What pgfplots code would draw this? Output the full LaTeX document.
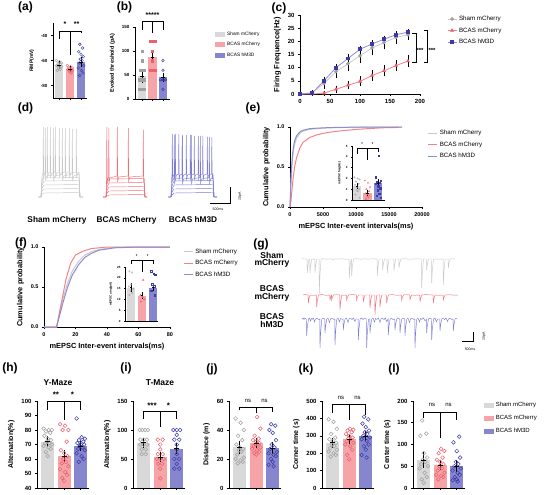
\documentclass[border=0pt]{standalone}
\usepackage{fontspec}
\setmainfont{Liberation Sans}
\usepackage{pgfplots}
\pgfplotsset{compat=1.18}
\definecolor{gbar}{RGB}{217,217,217}
\definecolor{gdot}{RGB}{160,160,160}
\definecolor{rbar}{RGB}{246,164,168}
\definecolor{rdot}{RGB}{238,96,108}
\definecolor{bbar}{RGB}{134,134,206}
\definecolor{bdot}{RGB}{58,58,170}
\definecolor{gline}{RGB}{200,200,200}
\definecolor{rline}{RGB}{245,128,138}
\definecolor{bline}{RGB}{140,140,215}
\definecolor{tg}{RGB}{200,200,200}
\definecolor{tr}{RGB}{240,110,120}
\definecolor{tb}{RGB}{125,125,210}
\newcommand{\fs}[1]{\fontsize{#1}{#1}\selectfont}
\tikzset{br/.style={line width=0.6pt, black}}
\pgfplotsset{
  base/.style={scale only axis, anchor=south west, clip=false,
    axis x line=bottom, axis y line=left,
    axis line style={-, line width=0.7pt},
    tick align=outside, major tick length=2pt,
    tick style={line width=0.6pt, black},
    /pgf/number format/assume math mode=true,
    /pgf/number format/1000 sep={},
    scaled x ticks=false, scaled y ticks=false,
    tick label style={font=\fs{5}\bfseries},
    label style={font=\fs{6}\bfseries},
    legend cell align=left},
  cat/.style={base, xtick={1,2,3}, xticklabels={}},
  sw/.style={legend image code/.code={\fill[##1] (0pt,-2.6pt) rectangle (10pt,2.6pt);}},
  shortline/.style={legend image code/.code={\draw[mark repeat=2, mark phase=2, ##1] plot coordinates {(0pt,0pt) (4.5pt,0pt) (9pt,0pt)};}},
  gb/.style={ybar, bar width=0.8, bar shift=0pt, fill=gbar, draw=none, sw},
  rb/.style={ybar, bar width=0.8, bar shift=0pt, fill=rbar, draw=none, sw},
  bb/.style={ybar, bar width=0.8, bar shift=0pt, fill=bbar, draw=none, sw},
  gd/.style={only marks, mark=o, mark size=1.9pt, color=gdot, mark options={line width=0.5pt}, forget plot},
  rd/.style={only marks, mark=o, mark size=1.9pt, color=rdot, mark options={line width=0.5pt}, forget plot},
  bd/.style={only marks, mark=o, mark size=1.9pt, color=bdot, mark options={line width=0.5pt}, forget plot},
  eb/.style={forget plot, draw=none, mark=-, mark size=#1, mark options={draw=black, line width=0.6pt, solid},
    /pgfplots/error bars/y dir=both, /pgfplots/error bars/y explicit,
    /pgfplots/error bars/error bar style={draw=black, line width=0.6pt, solid},
    /pgfplots/error bars/error mark options={draw=black, line width=0.6pt, mark size=#1}},
  eb/.default=2.5pt,
}
\begin{document}
\begin{tikzpicture}
\path[use as bounding box] (0,0) rectangle (546pt,-495pt);

% ---------------- (a)
\begin{axis}[cat, at={(53pt,-98pt)}, width=34pt, height=75pt, xmin=0.45, xmax=3.55, ymin=-90, ymax=-30,
  ytick={-80,-60,-40}, ylabel={RMP(mV)}, tick label style={font=\fs{4.5}\bfseries}, label style={font=\fs{5}\bfseries}]
\addplot[fill=gbar, draw=none, forget plot] coordinates {(0.62,-90) (0.62,-63.5) (1.38,-63.5) (1.38,-90)};
\addplot[fill=rbar, draw=none, forget plot] coordinates {(1.62,-90) (1.62,-67) (2.38,-67) (2.38,-90)};
\addplot[fill=bbar, draw=none, forget plot] coordinates {(2.62,-90) (2.62,-61.5) (3.38,-61.5) (3.38,-90)};
\addplot[gd, mark size=1.4pt, mark options={line width=0.4pt}] coordinates {(0.75,-60)(1.05,-61)(1.25,-62)(0.9,-62)(1.15,-63)(0.8,-64)(1,-64)(1.2,-65)(0.95,-66)(1.1,-67)(0.85,-68)};
\addplot[rd, mark size=1.4pt, mark options={line width=0.4pt}] coordinates {(1.75,-64)(2.05,-65)(2.25,-66)(1.9,-66)(2.15,-67)(1.8,-67)(2,-68)(2.2,-68)(1.95,-69)(2.1,-70)};
\addplot[bd, mark size=1.4pt, mark options={line width=0.4pt}] coordinates {(2.9,-47)(3.15,-50)(2.8,-53)(3,-55)(3.2,-57)(2.95,-59)(3.1,-60)(2.85,-62)(3.25,-64)(2.75,-66)(3.05,-68)(3.18,-70)(2.88,-72)};
\addplot[eb=1.8pt] coordinates {(1,-63.5) +- (0,1.5) (2,-67) +- (0,1) (3,-61.5) +- (0,2.5)};
\draw[br] (axis cs:1,-42.8) -- (axis cs:1,-36.4) -- (axis cs:3,-36.4) -- (axis cs:3,-38);
\draw[br] (axis cs:2,-36.4) -- (axis cs:2,-55.6);
\node[font=\fs{7}\bfseries] at (axis cs:1.55,-31) {*};
\node[font=\fs{7}\bfseries] at (axis cs:2.6,-31) {**};
\end{axis}

% ---------------- (b)
\begin{axis}[cat, at={(135pt,-99pt)}, width=35pt, height=72pt, xmin=0.33, xmax=3.67, ymin=0, ymax=150,
  ytick={0,50,100,150}, ylabel={Evoked threshold (pA)}, tick label style={font=\fs{4.5}\bfseries}, label style={font=\fs{5.5}\bfseries},
  legend style={at={(2.2,0.99)}, anchor=north west, draw=none, fill=none, font=\fs{4.8}, row sep=1.5pt}]
\addplot[gb] coordinates {(1,47)}; \addlegendentry{Sham mCherry}
\addplot[rb] coordinates {(2,87)}; \addlegendentry{BCAS mCherry}
\addplot[bb] coordinates {(3,45)}; \addlegendentry{BCAS hM3D}
\addplot[gd, mark=square*, mark size=1.2pt] coordinates {(1,100)(1,80)(0.85,60)(1.15,60)(0.8,40)(1,40)(1.2,40)(0.8,20)(1,20)(1.2,20)};
\addplot[rd, mark=square*, mark size=1.2pt] coordinates {(1.8,120)(2,120)(2.2,120)(2,100)(2,80)(1.8,60)(2,60)(2.2,60)};
\addplot[bd, mark size=1.3pt] coordinates {(3,80)(3,60)(2.75,40)(2.92,40)(3.08,40)(3.25,40)(3,20)};
\addplot[eb=1.8pt] coordinates {(1,47) +- (0,9) (2,87) +- (0,9) (3,45) +- (0,5)};
\draw[br] (axis cs:1,144) -- (axis cs:1,161) -- (axis cs:3,161) -- (axis cs:3,144);
\draw[br] (axis cs:2,161) -- (axis cs:2,137);
\node[font=\fs{7}\bfseries] at (axis cs:2,174) {*****};
\end{axis}

% ---------------- (c)
\begin{axis}[base, at={(300pt,-94pt)}, width=120pt, height=79pt, xmin=0, xmax=200, ymin=0, ymax=30,
  xtick={0,50,100,150,200}, ytick={0,5,10,15,20,25,30}, ylabel={Firing Frequence(Hz)},
  tick label style={font=\fs{6}\bfseries}, label style={font=\fs{7.5}\bfseries},
  legend style={at={(1.2,1.04)}, anchor=north west, draw=none, fill=none, font=\fs{6.2}, row sep=1.5pt}]
\addplot[shortline, color=gline, line width=0.8pt, mark=*, mark size=1.4pt, mark options={fill=gdot, draw=gdot},
  error bars/.cd, y dir=both, y explicit, error bar style={black, line width=0.5pt}, error mark options={black, mark size=1.5pt}]
  coordinates {(0,0) +- (0,0) (20,0.5) +- (0,0.4) (40,4) +- (0,1.5) (60,8.5) +- (0,2) (80,11.5) +- (0,2.3) (100,14.5) +- (0,2.3) (120,17.5) +- (0,2.2) (140,19.5) +- (0,2) (160,21.5) +- (0,1.8) (180,22.5) +- (0,1.6)};
\addlegendentry{Sham mCherry}
\addplot[shortline, color=rline, line width=0.8pt, mark=triangle*, mark size=1.5pt, mark options={fill=rdot, draw=rdot},
  error bars/.cd, y dir=both, y explicit, error bar style={black, line width=0.5pt}, error mark options={black, mark size=1.5pt}]
  coordinates {(0,0) +- (0,0) (20,0) +- (0,0) (40,0.3) +- (0,0.3) (60,1.8) +- (0,0.8) (80,3.3) +- (0,1) (100,4.8) +- (0,1.3) (120,7) +- (0,1.4) (140,8.8) +- (0,1.5) (160,10.8) +- (0,1.5) (180,12.5) +- (0,1.6)};
\addlegendentry{BCAS mCherry}
\addplot[shortline, color=bline, line width=0.8pt, mark=square*, mark size=1.4pt, mark options={fill=bdot, draw=bdot},
  error bars/.cd, y dir=both, y explicit, error bar style={black, line width=0.5pt}, error mark options={black, mark size=1.5pt}]
  coordinates {(0,0) +- (0,0) (20,0.3) +- (0,0.3) (40,5) +- (0,0.8) (60,10) +- (0,1) (80,13.5) +- (0,1) (100,17) +- (0,0.8) (120,19) +- (0,0.8) (140,20.8) +- (0,0.8) (160,22.5) +- (0,0.8) (180,23.5) +- (0,0.8)};
\addlegendentry{BCAS hM3D}
\draw[br] (axis cs:186,23.2) -- (axis cs:193,23.2) -- (axis cs:193,12.2) -- (axis cs:186,12.2);
\draw[br] (axis cs:207,24.3) -- (axis cs:212,24.3) -- (axis cs:212,12.2) -- (axis cs:207,12.2);
\node[font=\fs{6}\bfseries] at (axis cs:200,16.5) {***};
\node[font=\fs{6}\bfseries] at (axis cs:220,16.5) {***};
\end{axis}

% ---------------- (d) traces
\begin{axis}[scale only axis, anchor=south west, at={(0pt,-200pt)}, width=250pt, height=80pt,
  xmin=0, xmax=250, ymin=0, ymax=80, hide axis, clip=false]
\addplot[tg, line width=0.45pt] coordinates {(38,3)(41,3)(42,6)(44,7)(79,7.5)(80,3)(83,3)};
\addplot[tg, line width=0.45pt] coordinates {(38,3)(41,3)(42,9)(44,11)(79,11.5)(80,3)(83,3)};
\addplot[tg, line width=0.45pt] coordinates {(38,3)(41,3)(42,12)(44,15)(79,15.5)(80,3)(83,3)};
\addplot[tg, line width=0.45pt] coordinates {(38,3)(41,3)(42,15)(44,19)(79,19.5)(80,3)(83,3)};
\addplot[tg, line width=0.45pt] coordinates {(38,3)(41,3)(42,18)(44,22)(79,22.5)(80,3)(83,3)};
\addplot[tg, line width=0.45pt] coordinates {(38,3)(41,3)(42,20)(44,25)(45,25)(45.3,72)(45.7,19)(46.5,24)(53,25)(53.3,72)(53.7,19)(54.5,24)(62,25.5)(62.3,72)(62.7,19)(63.5,24)(72,26)(72.3,71)(72.7,19)(73.5,24)(79,26)(80,3)(83,3)};
\addplot[tg, line width=0.45pt] coordinates {(38,3)(41,3)(42,23)(43,28)(43.3,73)(43.7,22)(44.5,27)(47,28)(47.3,73)(47.7,22)(48.5,27)(50,28)(50.3,73)(50.7,22)(51.5,27)(55,28)(55.3,73)(55.7,22)(56.5,27)(59,28)(59.3,72)(59.7,22)(60.5,27)(65,28)(65.3,72)(65.7,22)(66.5,27)(69,28)(69.3,72)(69.7,22)(70.5,27)(76,28)(76.3,71)(76.7,22)(77.5,27)(79,28)(80,3)(83,3)};
\addplot[tr, line width=0.45pt] coordinates {(103,3)(106,3)(107,4)(109,5)(144,5.5)(145,3)(147,3)};
\addplot[tr, line width=0.45pt] coordinates {(103,3)(106,3)(107,7)(109,9)(144,9.5)(145,3)(147,3)};
\addplot[tr, line width=0.45pt] coordinates {(103,3)(106,3)(107,10)(109,13)(144,13.5)(145,3)(147,3)};
\addplot[tr, line width=0.45pt] coordinates {(103,3)(106,3)(107,13)(109,17)(144,17.5)(145,3)(147,3)};
\addplot[tr, line width=0.45pt] coordinates {(103,3)(106,3)(107,16)(109,21)(144,21.5)(145,3)(147,3)};
\addplot[tr, line width=0.45pt] coordinates {(103,3)(106,3)(106.5,20)(106.8,73)(107.2,18)(108,22)(108.5,23)(108.8,72)(109.2,18)(110,22)(117,24)(117.3,73)(117.7,18)(118.5,23)(128,24)(128.3,72)(128.7,18)(129.5,23)(143,24)(143.3,70)(143.7,18)(144,22)(145,3)(147,3)};
\addplot[tb, line width=0.45pt] coordinates {(168,3)(171,3)(172,5)(174,7)(213,7.5)(214,3)(217,3)};
\addplot[tb, line width=0.45pt] coordinates {(168,3)(171,3)(172,8)(174,11)(213,11.5)(214,3)(217,3)};
\addplot[tb, line width=0.45pt] coordinates {(168,3)(171,3)(172,11)(174,15)(213,15.5)(214,3)(217,3)};
\addplot[tb, line width=0.45pt] coordinates {(168,3)(171,3)(172,14)(174,19)(213,19.5)(214,3)(217,3)};
\addplot[tb, line width=0.45pt] coordinates {(168,3)(171,3)(172,18)(174,22)(174.3,65)(174.7,17)(175.5,21)(182,22)(182.3,64)(182.7,17)(183.5,21)(191,22)(191.3,65)(191.7,17)(192.5,21)(200,22.5)(200.3,64)(200.7,17)(201.5,21)(209,22.5)(209.3,63)(209.7,17)(210.5,21)(213,22.5)(214,3)(217,3)};
\addplot[tb, line width=0.45pt] coordinates {(168,3)(171,3)(171.7,22)(172,26)(172.3,66)(172.7,21)(173.5,25)(175,26)(175.3,66)(175.7,21)(176.5,25)(178.5,26)(178.8,66)(179.2,21)(180,25)(182,26)(182.3,65)(182.7,21)(183.5,25)(186,26)(186.3,65)(186.7,21)(187.5,25)(190,26)(190.3,65)(190.7,21)(191.5,25)(194,26)(194.3,64)(194.7,21)(195.5,25)(198,26)(198.3,64)(198.7,21)(199.5,25)(202.5,26)(202.8,64)(203.2,21)(204,25)(207,26)(207.3,63)(207.7,21)(208.5,25)(211.5,26)(211.8,63)(212.2,21)(213,25.5)(214,3)(217,3)};
\addplot[black, line width=0.8pt] coordinates {(210,-3)(230,-3)(230,13)};
\node[font=\fs{3.5}] at (axis cs:218,-9) {500ms};
\node[font=\fs{3.5}, rotate=90] at (axis cs:240,4) {10pA};
\node[font=\fs{8.3}\bfseries] at (axis cs:57,-20) {Sham mCherry};
\node[font=\fs{8.3}\bfseries] at (axis cs:126.5,-20) {BCAS mCherry};
\node[font=\fs{8.3}\bfseries] at (axis cs:193,-20) {BCAS hM3D};
\end{axis}

% ---------------- (e)
\begin{axis}[base, at={(290pt,-207pt)}, width=132pt, height=80pt, xmin=0, xmax=20000, ymin=0, ymax=1,
  xtick={0,5000,10000,15000,20000}, ytick={0,0.5,1}, yticklabels={0.0,0.5,1.0},
  xlabel={mEPSC Inter-event intervals(ms)}, ylabel={Cumulative probability},
  tick label style={font=\fs{5.5}\bfseries}, label style={font=\fs{7.4}\bfseries},
  legend style={at={(1.02,1.01)}, anchor=north west, draw=none, fill=none, font=\fs{6.2}, row sep=1.5pt}]
\addplot[shortline, gline, line width=1pt] coordinates {(0,0)(100,0.2)(200,0.4)(300,0.52)(400,0.62)(600,0.74)(800,0.81)(1000,0.86)(1500,0.92)(2000,0.95)(3000,0.97)(4000,0.98)(6000,0.99)(9000,0.995)(13000,1)(17000,1)};
\addlegendentry{Sham mCherry}
\addplot[shortline, rline, line width=1pt] coordinates {(0,0)(150,0.08)(300,0.22)(500,0.38)(700,0.5)(1000,0.62)(1500,0.74)(2000,0.81)(3000,0.87)(4000,0.9)(5000,0.92)(6000,0.935)(8000,0.955)(10000,0.97)(12000,0.98)(14000,0.99)(16500,0.995)};
\addlegendentry{BCAS mCherry}
\addplot[shortline, bline, line width=1pt] coordinates {(0,0)(100,0.25)(200,0.45)(300,0.57)(400,0.67)(600,0.79)(800,0.85)(1000,0.89)(1500,0.94)(2000,0.96)(3000,0.98)(4000,0.985)(6000,0.993)(9000,0.997)(13000,1)(17000,1)};
\addlegendentry{BCAS hM3D}
\end{axis}
% inset (e)
\begin{axis}[cat, at={(352pt,-200pt)}, width=33pt, height=54pt, xmin=0.52, xmax=3.67, ymin=0, ymax=5,
  ytick={0,1,2,3,4,5}, ylabel={mEPSC freq(Hz)}, major tick length=1pt, axis line style={-, line width=0.5pt}, tick style={line width=0.4pt},
  tick label style={font=\fs{3}\bfseries}, label style={font=\fs{3}\bfseries}, ylabel style={yshift=-2pt}]
\addplot[gb] coordinates {(1,1.3)};
\addplot[rb] coordinates {(2,0.65)};
\addplot[bb] coordinates {(3,1.55)};
\addplot[gd, mark size=0.8pt, mark options={line width=0.3pt}] coordinates {(0.75,2.1)(1.05,2.0)(1.25,1.9)(0.9,1.7)(1.15,1.5)(0.8,1.4)(1,1.2)(1.2,1.0)(0.95,0.9)(1.1,0.8)(0.85,0.5)(1.25,0.2)};
\addplot[rd, mark=triangle, mark size=0.9pt, mark options={line width=0.3pt}] coordinates {(1.75,1.8)(2.05,1.6)(2.25,1.2)(1.9,1.0)(2.15,0.8)(1.8,0.6)(2,0.5)(2.2,0.4)(1.95,0.3)(2.1,0.2)(1.85,0.1)};
\addplot[bd, mark=square*, mark size=0.7pt, mark options={line width=0.3pt}] coordinates {(3.05,4.1)(2.75,2.1)(3.25,1.8)(2.9,1.7)(3.15,1.6)(2.8,1.5)(3,1.3)(3.2,1.1)(2.95,0.9)(3.1,0.6)(2.85,0.4)(3.25,0.2)};
\addplot[eb=1.2pt] coordinates {(1,1.3) +- (0,0.2) (2,0.65) +- (0,0.2) (3,1.55) +- (0,0.3)};
\draw[line width=0.4pt] (axis cs:1,4.3) -- (axis cs:1,4.75) -- (axis cs:3,4.75) -- (axis cs:3,4.4);
\draw[line width=0.4pt] (axis cs:2,4.75) -- (axis cs:2,3.7);
\node[font=\fs{4}\bfseries] at (axis cs:1.5,5.15) {*};
\node[font=\fs{4}\bfseries] at (axis cs:2.5,5.15) {*};
\end{axis}

% ---------------- (f)
\begin{axis}[base, at={(44pt,-327pt)}, width=126pt, height=80pt, xmin=0, xmax=80, ymin=0, ymax=1,
  xtick={0,20,40,60,80}, ytick={0,0.5,1}, yticklabels={0.0,0.5,1.0},
  xlabel={mEPSC Inter-event intervals(ms)}, ylabel={Cumulative probability},
  tick label style={font=\fs{5.5}\bfseries}, label style={font=\fs{7.4}\bfseries},
  legend style={at={(1.08,1.03)}, anchor=north west, draw=none, fill=none, font=\fs{6.2}, row sep=1.5pt}]
\addplot[shortline, gline, line width=1pt] coordinates {(0,0)(8,0)(10,0.18)(12,0.35)(15,0.55)(18,0.7)(22,0.82)(26,0.9)(30,0.94)(35,0.97)(45,0.995)(60,1)(80,1)};
\addlegendentry{Sham mCherry}
\addplot[shortline, rline, line width=1pt] coordinates {(0,0)(8,0)(10,0.2)(12,0.4)(14,0.6)(17,0.8)(20,0.9)(25,0.95)(30,0.98)(40,1)(80,1)};
\addlegendentry{BCAS mCherry}
\addplot[shortline, bline, line width=1pt] coordinates {(0,0)(8,0)(10,0.15)(12,0.3)(15,0.5)(18,0.65)(22,0.78)(26,0.87)(30,0.92)(35,0.96)(45,0.99)(60,1)(80,1)};
\addlegendentry{BCAS hM3D}
\end{axis}
% inset (f)
\begin{axis}[cat, at={(125pt,-321pt)}, width=33pt, height=54pt, xmin=0.45, xmax=3.45, ymin=0, ymax=25,
  ytick={0,5,10,15,20,25}, ylabel={mEPSC amp(pA)}, major tick length=1pt, axis line style={-, line width=0.5pt}, tick style={line width=0.4pt},
  tick label style={font=\fs{3}\bfseries}, label style={font=\fs{3}\bfseries}, ylabel style={yshift=-2pt}]
\addplot[gb] coordinates {(1,15.5)};
\addplot[rb] coordinates {(2,11.8)};
\addplot[bb] coordinates {(3,15.5)};
\addplot[gd, mark=diamond, mark size=0.9pt, mark options={line width=0.3pt}] coordinates {(0.85,23)(1.1,22.5)(1,17)(0.8,16)(1.2,15)(0.95,14)(1.1,13)(0.85,12)};
\addplot[rd, mark=triangle*, mark size=0.9pt, mark options={line width=0.3pt}] coordinates {(2.1,19)(1.85,12)(2.05,11)(2.2,10)(1.9,9)};
\addplot[bd, mark=square, mark size=0.8pt, mark options={line width=0.3pt}] coordinates {(2.8,23)(3.05,22)(3.2,21.5)(2.9,17)(3.1,16)(2.85,14)(3.15,12)};
\addplot[eb=1.2pt] coordinates {(1,15.5) +- (0,1.5) (2,11.8) +- (0,1) (3,15.5) +- (0,1)};
\draw[line width=0.4pt] (axis cs:1,26.5) -- (axis cs:1,28) -- (axis cs:3,28) -- (axis cs:3,26.5);
\draw[line width=0.4pt] (axis cs:2,28) -- (axis cs:2,22.7);
\node[font=\fs{4}\bfseries] at (axis cs:1.5,30) {*};
\node[font=\fs{4}\bfseries] at (axis cs:2.5,30) {*};
\end{axis}

% ---------------- (g) traces
\begin{axis}[scale only axis, anchor=south west, at={(300pt,-350pt)}, width=160pt, height=95pt,
  xmin=0, xmax=160, ymin=0, ymax=95, hide axis, clip=false]
\addplot[tg, line width=0.45pt] coordinates {(2,91)(4,91.3)(6,90.8)(7.1,91)(7.3,77)(7.9,84)(9,91)(9.8,91)(10,77)(10.6,84)(11.8,91)(13,90.7)(14.8,91)(15,77)(15.6,84)(16.8,91)(19.1,91)(19.3,57)(19.9,74)(21.1,91)(24,91.3)(27,90.7)(30,91.2)(33,90.6)(36,91.2)(39,90.8)(42,91.3)(46,90.8)(49.1,91)(49.3,72)(49.9,81.5)(51.1,91)(51.5,91)(51.7,74)(52.3,82.5)(53.5,91)(57,91.3)(61,90.7)(65,91.2)(69,90.8)(73,91.3)(77.1,91)(77.3,74)(77.9,82.5)(79.1,91)(82.5,91)(82.7,80)(83.3,85.5)(84.5,91)(87.1,91)(87.3,77)(87.9,84)(89.1,91)(93.8,91)(94,79)(94.6,85)(95.8,91)(98.8,91)(99,82)(99.6,86.5)(100.8,91)(105,91.3)(110,90.7)(116,91.2)(121.5,91)(121.7,62)(122.3,76.5)(123.5,91)(126.5,91)(126.7,80)(127.3,85.5)(128.5,91)(131.5,91)(131.7,67)(132.3,79)(133.5,91)(138,90.8)(143.1,91)(143.3,65)(143.9,78)(145.1,91)(148.1,91)(148.3,82)(148.9,86.5)(150.1,91)(153,91.2)(155,91)};
\addplot[tr, line width=0.45pt] coordinates {(3,55)(5,55.4)(8.1,55)(8.3,47)(8.9,51)(10.1,55)(13,54.7)(16.5,55)(16.7,43)(17.3,49)(18.5,55)(22,55.4)(26,54.7)(29.8,55)(30,50)(30.6,52.5)(31.5,55)(31.7,50)(32.3,52.5)(33.5,55)(36,55.3)(39.8,55)(40,40)(40.6,47.5)(41.8,55)(44,54.7)(46.5,55)(46.7,50)(47.3,52.5)(48.5,55)(52,55.4)(56.5,55)(56.7,50)(57.3,52.5)(58.5,55)(63.1,55)(63.3,48)(63.9,51.5)(65.1,55)(69.8,55)(70,42)(70.6,48.5)(71.8,55)(74.8,55)(75,35)(75.6,45)(76.8,55)(79.8,55)(80,43)(80.6,49)(81.8,55)(86.5,55)(86.7,47)(87.3,51)(88.5,55)(92,55.4)(97,54.7)(101.5,55)(101.7,50)(102.3,52.5)(103.5,55)(106,55.3)(109.8,55)(110,50)(110.6,52.5)(111.8,55)(115,54.7)(119.8,55)(120,48)(120.6,51.5)(121.8,55)(126,55.4)(133.1,55)(133.3,47)(133.9,51)(135.1,55)(139,54.7)(143.1,55)(143.3,50)(143.9,52.5)(145.1,55)(150,55.3)(154,54.8)(158,55)};
\addplot[tb, line width=0.45pt] coordinates {(2,31)(3,32)(4,30.5)(5,31.8)(6.5,31)(6.7,14)(7.3,22.5)(8.5,31)(9.5,32)(10.5,29)(11.5,31.5)(12.5,30.8)(13.5,32)(14.5,28)(15.5,31)(17,31.8)(18.5,30.5)(19.8,31)(20,2)(20.6,16.5)(21.8,31)(23,31.8)(24.8,31)(25,17)(25.6,24)(26.8,31)(28,32)(29.5,27.5)(30.5,31)(32,31.8)(33.5,30.6)(34.8,31)(35,5)(35.6,18)(36.8,31)(38,32)(39.5,28)(40.5,31.5)(42,30.8)(43.1,31)(43.3,20)(43.9,25.5)(45.1,31)(46.5,32)(48,27.5)(49,31)(50.5,31.8)(52,30.5)(53.5,32)(55,28.5)(56,31)(58.1,31)(58.3,10)(58.9,20.5)(60.1,31)(61.5,32)(63,30.5)(64.5,31.8)(66.5,31)(66.7,2)(67.3,16.5)(68.5,31)(69.8,31)(70,17)(70.6,24)(71.8,31)(73,32)(74.5,28)(75.5,31.5)(77,30.6)(78.5,32)(80,27.5)(81,31)(82.5,31.8)(84,30.5)(85.5,32)(86.5,28.5)(88.1,31)(88.3,15)(88.9,23)(90.1,31)(91.5,31.8)(93,30.5)(94.8,31)(95,20)(95.6,25.5)(96.8,31)(98,32)(99.8,31)(100,17)(100.6,24)(101.8,31)(103,31.8)(104.8,31)(105,14)(105.6,22.5)(106.8,31)(108,32)(109.5,27.5)(110.5,31)(112,31.8)(113.5,30.6)(114.8,31)(115,2)(115.6,16.5)(116.8,31)(118,32)(119.5,28)(120.5,31.5)(122,30.6)(123.5,32)(125,29)(126.5,31)(126.7,17)(127.3,24)(128.5,31)(130,31.8)(131.5,31)(131.7,10)(132.3,20.5)(133.5,31)(135,32)(136.5,28)(137.5,31)(139.8,31)(140,19)(140.6,25)(141.8,31)(143,31.8)(144.5,30.5)(146,32)(147.5,28.5)(148.5,31)(150,31.8)(151.5,30.6)(153.1,31)(153.3,19)(153.9,25)(155.1,31)(156,31.8)(157,31)};
\addplot[black, line width=0.8pt] coordinates {(162,9)(173,9)(173,18)};
\node[font=\fs{3.5}] at (axis cs:170,1) {500ms};
\node[font=\fs{3.5}, rotate=90] at (axis cs:184,14) {15pA};
\node[font=\fs{8.5}\bfseries, align=center] at (axis cs:-28,90) {Sham\\[-1pt]mCherry};
\node[font=\fs{8.5}\bfseries, align=center] at (axis cs:-28,56.5) {BCAS\\[-1pt]mCherry};
\node[font=\fs{8.5}\bfseries, align=center] at (axis cs:-28,29.5) {BCAS\\[-1pt]hM3D};
\end{axis}

% ---------------- (h)
\begin{axis}[cat, at={(37pt,-488pt)}, width=52pt, height=87pt, xmin=0.35, xmax=3.5, ymin=40, ymax=100,
  ytick={40,50,60,70,80,90,100}, ylabel={Alternation(\%)}, tick label style={font=\fs{6}\bfseries}, label style={font=\fs{7}\bfseries}]
\addplot[fill=gbar, draw=none, forget plot] coordinates {(0.6,40) (0.6,72) (1.4,72) (1.4,40)};
\addplot[fill=rbar, draw=none, forget plot] coordinates {(1.6,40) (1.6,62) (2.4,62) (2.4,40)};
\addplot[fill=bbar, draw=none, forget plot] coordinates {(2.6,40) (2.6,69) (3.4,69) (3.4,40)};
\addplot[gd] coordinates {(0.75,81)(1.05,80)(1.25,80)(0.9,79)(1.15,78)(0.8,76)(1,74)(1.2,73)(0.95,72)(1.1,71)(0.85,71)(1.25,70)(0.75,69)(1.05,68)(1.18,67)(0.88,65)(1,62)};
\addplot[rd] coordinates {(1.75,84)(2.05,83)(2.25,80)(1.9,80)(2.15,72)(1.8,66)(2,64)(2.2,62)(1.95,60)(2.1,58)(1.85,57)(2.25,55)(1.75,53)(2.05,51)(2.18,49)(1.88,47)(2,45)};
\addplot[bd] coordinates {(2.75,88)(3.05,75)(3.25,74)(2.9,73)(3.15,72)(2.8,71)(3,70)(3.2,70)(2.95,69)(3.1,68)(2.85,67)(3.25,66)(2.75,64)(3.05,62)(3.18,60)(2.88,58)};
\addplot[eb] coordinates {(1,72) +- (0,2) (2,62) +- (0,2.5) (3,69) +- (0,2)};
\draw[br] (axis cs:1,94) -- (axis cs:1,100) -- (axis cs:3,100) -- (axis cs:3,94);
\draw[br] (axis cs:2,100) -- (axis cs:2,87);
\node[font=\fs{8}\bfseries] at (axis cs:1.5,104.5) {**};
\node[font=\fs{8}\bfseries] at (axis cs:2.5,104.5) {*};
\end{axis}

% ---------------- (i)
\begin{axis}[cat, at={(133pt,-488pt)}, width=52pt, height=87pt, xmin=0.35, xmax=3.5, ymin=0, ymax=150,
  ytick={0,50,100,150}, ylabel={Alternation(\%)}, tick label style={font=\fs{6}\bfseries}, label style={font=\fs{7}\bfseries}]
\addplot[gb] coordinates {(1,78)};
\addplot[rb] coordinates {(2,53)};
\addplot[bb] coordinates {(3,68)};
\addplot[gd] coordinates {(0.75,100)(0.92,100)(1.08,100)(1.25,100)(0.8,83.3)(1,83.3)(1.2,83.3)(0.8,75)(1,75)(1.2,75)(0.88,66.7)(1.12,66.7)(0.88,58.3)(1.12,58.3)};
\addplot[rd] coordinates {(1.85,83.3)(2.15,83.3)(2,75)(2,66.7)(1.85,58.3)(2.15,58.3)(1.78,50)(2,50)(2.22,50)(1.88,41.7)(2.12,41.7)(2,33.3)(2,16.7)};
\addplot[bd] coordinates {(2.8,100)(3,100)(3.2,100)(3,91.7)(2.85,83.3)(3.15,83.3)(3,75)(3,66.7)(3,58.3)(2.85,50)(3.15,50)(3,41.7)(2.85,33.3)(3.15,33.3)};
\addplot[eb] coordinates {(1,78) +- (0,4) (2,53) +- (0,4) (3,68) +- (0,5)};
\draw[br] (axis cs:1,119) -- (axis cs:1,133) -- (axis cs:3,133) -- (axis cs:3,119);
\draw[br] (axis cs:2,133) -- (axis cs:2,105);
\node[font=\fs{8}\bfseries] at (axis cs:1.5,142) {***};
\node[font=\fs{8}\bfseries] at (axis cs:2.5,142) {*};
\end{axis}

% ---------------- (j)
\begin{axis}[cat, at={(229pt,-488pt)}, width=52pt, height=87pt, xmin=0.35, xmax=3.5, ymin=0, ymax=60,
  ytick={0,20,40,60}, ylabel={Distance (m)}, tick label style={font=\fs{6}\bfseries}, label style={font=\fs{7}\bfseries}]
\addplot[gb] coordinates {(1,28)};
\addplot[rb] coordinates {(2,31)};
\addplot[bb] coordinates {(3,27.5)};
\addplot[gd] coordinates {(0.75,48)(1.05,45)(1.25,40)(0.9,36)(1.15,33)(0.8,30)(1,28)(1.2,27)(0.95,26)(1.1,25)(0.85,23)(1.25,21)(0.75,20)(1.05,19)(1.18,18)(0.88,17)};
\addplot[rd] coordinates {(2.05,49)(2.25,41)(1.9,36)(2.15,34)(1.8,33)(2,32)(2.2,31)(1.95,30)(2.1,30)(1.85,29)(2.25,28)(1.75,27)(2.05,26)(2.18,25)(1.88,24)(2,23)};
\addplot[bd] coordinates {(2.9,44)(3.15,43)(2.8,40)(3,38)(3.2,33)(2.95,30)(3.1,28)(2.85,27)(3.25,25)(2.75,24)(3.05,23)(3.18,22)(2.88,20)(3,18)(2.75,16)(3.05,15)};
\addplot[eb] coordinates {(1,28) +- (0,2.5) (2,31) +- (0,2) (3,27.5) +- (0,2.5)};
\draw[br] (axis cs:1,53.5) -- (axis cs:1,56) -- (axis cs:3,56) -- (axis cs:3,52.5);
\draw[br] (axis cs:2,56) -- (axis cs:2,52);
\node[font=\fs{6}] at (axis cs:1.5,60) {ns};
\node[font=\fs{6}] at (axis cs:2.5,60) {ns};
\end{axis}

% ---------------- (k)
\begin{axis}[cat, at={(322pt,-488pt)}, width=52pt, height=87pt, xmin=0.35, xmax=3.5, ymin=0, ymax=500,
  ytick={0,100,200,300,400,500}, ylabel={Corner time (s)}, tick label style={font=\fs{6}\bfseries}, label style={font=\fs{7}\bfseries}]
\addplot[gb] coordinates {(1,260)};
\addplot[rb] coordinates {(2,280)};
\addplot[bb] coordinates {(3,300)};
\addplot[gd] coordinates {(0.75,395)(1.05,380)(1.25,340)(0.9,310)(1.15,290)(0.8,280)(1,270)(1.2,260)(0.95,250)(1.1,240)(0.85,230)(1.25,220)(0.75,210)(1.05,200)(1.18,190)(0.88,180)};
\addplot[rd] coordinates {(2.05,340)(2.25,335)(1.9,330)(2.15,320)(1.8,310)(2,300)(2.2,290)(1.95,285)(2.1,280)(1.85,270)(2.25,260)(1.75,250)(2.05,240)(2.18,220)(1.88,190)(2,165)};
\addplot[bd] coordinates {(2.9,410)(3.15,395)(2.8,370)(3,350)(3.2,330)(2.95,320)(3.1,310)(2.85,300)(3.25,290)(2.75,280)(3.05,270)(3.18,250)(2.88,240)(3,220)(2.75,190)(3.05,175)};
\addplot[eb] coordinates {(1,260) +- (0,15) (2,280) +- (0,12) (3,300) +- (0,15)};
\draw[br] (axis cs:1,430) -- (axis cs:1,483) -- (axis cs:3,483) -- (axis cs:3,420);
\draw[br] (axis cs:2,483) -- (axis cs:2,390);
\node[font=\fs{6}] at (axis cs:1.5,515) {ns};
\node[font=\fs{6}] at (axis cs:2.5,515) {ns};
\end{axis}

% ---------------- (l)
\begin{axis}[cat, at={(413pt,-488pt)}, width=52pt, height=87pt, xmin=0.35, xmax=3.5, ymin=0, ymax=200,
  ytick={0,50,100,150,200}, ylabel={Center time (s)}, tick label style={font=\fs{6}\bfseries}, label style={font=\fs{7}\bfseries},
  legend style={at={(1.3,1.03)}, anchor=north west, draw=none, fill=none, font=\fs{6}, row sep=3pt}]
\addplot[gb] coordinates {(1,64)}; \addlegendentry{Sham mCherry}
\addplot[rb] coordinates {(2,53)}; \addlegendentry{BCAS mCherry}
\addplot[bb] coordinates {(3,50)}; \addlegendentry{BCAS hM3D}
\addplot[gd] coordinates {(0.9,155)(1.15,125)(0.8,120)(1,80)(1.2,70)(0.95,65)(1.1,60)(0.85,55)(1.25,50)(0.75,45)(1.05,35)(1.18,25)(0.88,20)(1,12)};
\addplot[rd] coordinates {(2.05,90)(2.25,85)(1.9,80)(2.15,70)(1.8,65)(2,60)(2.2,55)(1.95,50)(2.1,45)(1.85,40)(2.25,35)(1.75,30)(2.05,28)(2.18,25)(1.88,20)};
\addplot[bd] coordinates {(3.15,118)(2.8,105)(3,85)(3.2,70)(2.95,60)(3.1,55)(2.85,50)(3.25,45)(2.75,40)(3.05,35)(3.18,30)(2.88,25)(3,20)(2.75,18)(3.05,15)};
\addplot[eb] coordinates {(1,64) +- (0,12) (2,53) +- (0,6) (3,50) +- (0,8)};
\draw[br] (axis cs:1,160) -- (axis cs:1,175) -- (axis cs:3,175) -- (axis cs:3,157);
\draw[br] (axis cs:2,175) -- (axis cs:2,115);
\node[font=\fs{6}] at (axis cs:1.5,190) {ns};
\node[font=\fs{6}] at (axis cs:2.5,190) {ns};
\end{axis}

% ---------------- panel letters and titles
\node[font=\fs{12}\bfseries] at (25.5pt,-7.5pt) {(a)};
\node[font=\fs{12}\bfseries] at (124.5pt,-7.5pt) {(b)};
\node[font=\fs{12}\bfseries] at (279pt,-8pt) {(c)};
\node[font=\fs{12}\bfseries] at (25.5pt,-108pt) {(d)};
\node[font=\fs{12}\bfseries] at (253pt,-108pt) {(e)};
\node[font=\fs{12}\bfseries] at (21pt,-243pt) {(f)};
\node[font=\fs{12}\bfseries] at (261pt,-244pt) {(g)};
\node[font=\fs{12}\bfseries] at (10pt,-368pt) {(h)};
\node[font=\fs{12}\bfseries] at (126pt,-368pt) {(i)};
\node[font=\fs{12}\bfseries] at (212pt,-369pt) {(j)};
\node[font=\fs{12}\bfseries] at (306pt,-369pt) {(k)};
\node[font=\fs{12}\bfseries] at (394pt,-369pt) {(l)};
\node[font=\fs{8.5}\bfseries] at (58pt,-383pt) {Y-Maze};
\node[font=\fs{8.5}\bfseries] at (160pt,-383pt) {T-Maze};
\end{tikzpicture}
\end{document}
